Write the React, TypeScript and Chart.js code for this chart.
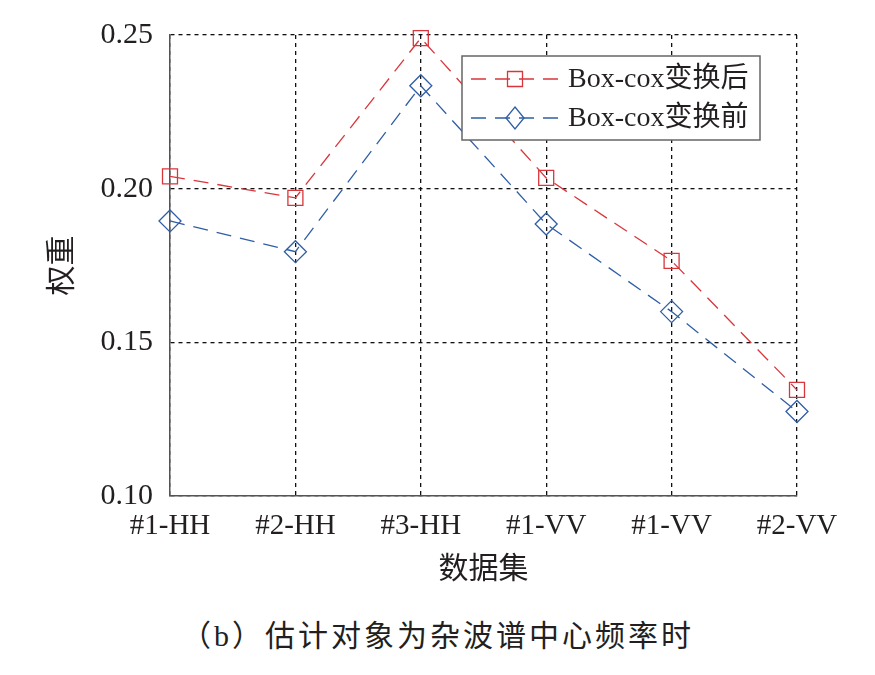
import { useRef, useEffect } from 'react';
import Chart from 'chart.js/auto';

const categories = ['#1-HH', '#2-HH', '#3-HH', '#1-VV', '#1-VV', '#2-VV'];
const afterValues = [0.204, 0.197, 0.249, 0.2035, 0.1765, 0.1345];
const beforeValues = [0.1895, 0.1795, 0.2335, 0.1885, 0.1600, 0.1275];
const yTicks = [0.1, 0.15, 0.2, 0.25];

const seriesNames = ['Box-cox变换后', 'Box-cox变换前'];
const RED = '#d9363b';
const BLUE = '#2f5ea6';
const TEXT = '#231f20';
const LATIN = "'Liberation Serif', 'Times New Roman', serif";
const CJK = "'Liberation Serif', 'Noto Sans CJK SC', serif";

// legend box drawn inside the plot, top-right
const boxLegend = {
  id: 'boxLegend',
  afterDraw(chart: Chart) {
    const { ctx, chartArea } = chart;
    const right = chartArea.right - 37;
    const top = chartArea.top + 21;
    const w = 298;
    const h = 84;
    const left = right - w;
    ctx.save();
    ctx.fillStyle = '#fff';
    ctx.fillRect(left, top, w, h);
    ctx.strokeStyle = '#666';
    ctx.lineWidth = 1.5;
    ctx.strokeRect(left, top, w, h);

    const rows = [
      { name: seriesNames[0], color: RED, style: 'rect', y: top + 23 },
      { name: seriesNames[1], color: BLUE, style: 'rectRot', y: top + 62 },
    ];
    rows.forEach((r) => {
      ctx.strokeStyle = r.color;
      ctx.lineWidth = 1.3;
      ctx.setLineDash([15, 9]);
      ctx.beginPath();
      ctx.moveTo(left + 9, r.y);
      ctx.lineTo(left + 96, r.y);
      ctx.stroke();
      ctx.setLineDash([]);
      const mx = left + 53;
      ctx.beginPath();
      if (r.style === 'rect') {
        ctx.rect(mx - 7.5, r.y - 7.5, 15, 15);
      } else {
        ctx.moveTo(mx, r.y - 11);
        ctx.lineTo(mx + 9, r.y);
        ctx.lineTo(mx, r.y + 11);
        ctx.lineTo(mx - 9, r.y);
        ctx.closePath();
      }
      ctx.stroke();
      ctx.fillStyle = TEXT;
      ctx.font = `28px ${CJK}`;
      ctx.textBaseline = 'middle';
      ctx.textAlign = 'left';
      ctx.fillText(r.name, left + 106, r.y + 1);
    });
    ctx.restore();
  },
};

export default function App() {
  const chartRef = useRef<HTMLCanvasElement>(null);
  const chartInstance = useRef<Chart | null>(null);

  useEffect(() => {
    document.body.style.margin = '0';
    if (!chartRef.current) return;
    if (chartInstance.current) chartInstance.current.destroy();
    const ctx = chartRef.current.getContext('2d');
    if (!ctx) return;

    chartInstance.current = new Chart(ctx, {
      type: 'line',
      data: {
        labels: categories,
        datasets: [
          {
            label: seriesNames[0],
            data: afterValues,
            borderColor: RED,
            borderWidth: 1.3,
            borderDash: [15, 9],
            pointStyle: 'rect',
            pointRadius: 10.6,
            pointBorderWidth: 1.3,
            pointBorderColor: RED,
            pointBackgroundColor: 'rgba(0,0,0,0)',
            tension: 0,
            clip: false,
          },
          {
            label: seriesNames[1],
            data: beforeValues,
            borderColor: BLUE,
            borderWidth: 1.3,
            borderDash: [15, 9],
            pointStyle: 'rectRot',
            pointRadius: 11,
            pointBorderWidth: 1.3,
            pointBorderColor: BLUE,
            pointBackgroundColor: 'rgba(0,0,0,0)',
            tension: 0,
            clip: false,
          },
        ],
      },
      options: {
        responsive: false,
        animation: false,
        layout: { padding: { left: 41, right: 78, top: 34, bottom: 0 } },
        plugins: {
          legend: { display: false },
          tooltip: { enabled: false },
        },
        scales: {
          x: {
            offset: false,
            afterFit: (scale: any) => {
              scale.height = 104;
            },
            grid: { color: '#111', lineWidth: 1.3, drawTicks: false },
            border: { display: true, color: '#555', width: 1.5, dash: [4, 4] },
            ticks: { color: TEXT, font: { family: LATIN, size: 29 }, padding: 13, autoSkip: false, maxRotation: 0 },
            title: {
              display: true,
              text: '数据集',
              color: TEXT,
              font: { family: CJK, size: 30 },
              padding: { top: 0, bottom: 12 },
            },
          },
          y: {
            min: yTicks[0],
            max: yTicks[yTicks.length - 1],
            afterFit: (scale: any) => {
              scale.width = 129;
            },
            afterBuildTicks: (scale: any) => {
              scale.ticks = yTicks.map((v) => ({ value: v }));
            },
            grid: { color: '#111', lineWidth: 1.3, drawTicks: false },
            border: { display: true, color: '#555', width: 1.5, dash: [4, 4] },
            ticks: {
              color: TEXT,
              font: { family: LATIN, size: 30 },
              padding: 17,
              callback: (v: any) => Number(v).toFixed(2),
            },
            title: {
              display: true,
              text: '权重',
              color: TEXT,
              font: { family: CJK, size: 30 },
              padding: 4,
            },
          },
        },
      },
      plugins: [boxLegend],
    });

    return () => {
      if (chartInstance.current) {
        chartInstance.current.destroy();
        chartInstance.current = null;
      }
    };
  }, []);

  return (
    <div style={{ position: 'relative', width: 875, height: 675, background: '#fff' }}>
      <canvas ref={chartRef} width={875} height={600} style={{ width: 875, height: 600, display: 'block' }}></canvas>
      <div
        style={{
          position: 'absolute',
          left: 0,
          width: 875,
          top: 616,
          textAlign: 'center',
          fontFamily: CJK,
          fontSize: 30,
          lineHeight: '40px',
          color: TEXT,
          letterSpacing: 3,
        }}
      >
        （b）估计对象为杂波谱中心频率时
      </div>
    </div>
  );
}
